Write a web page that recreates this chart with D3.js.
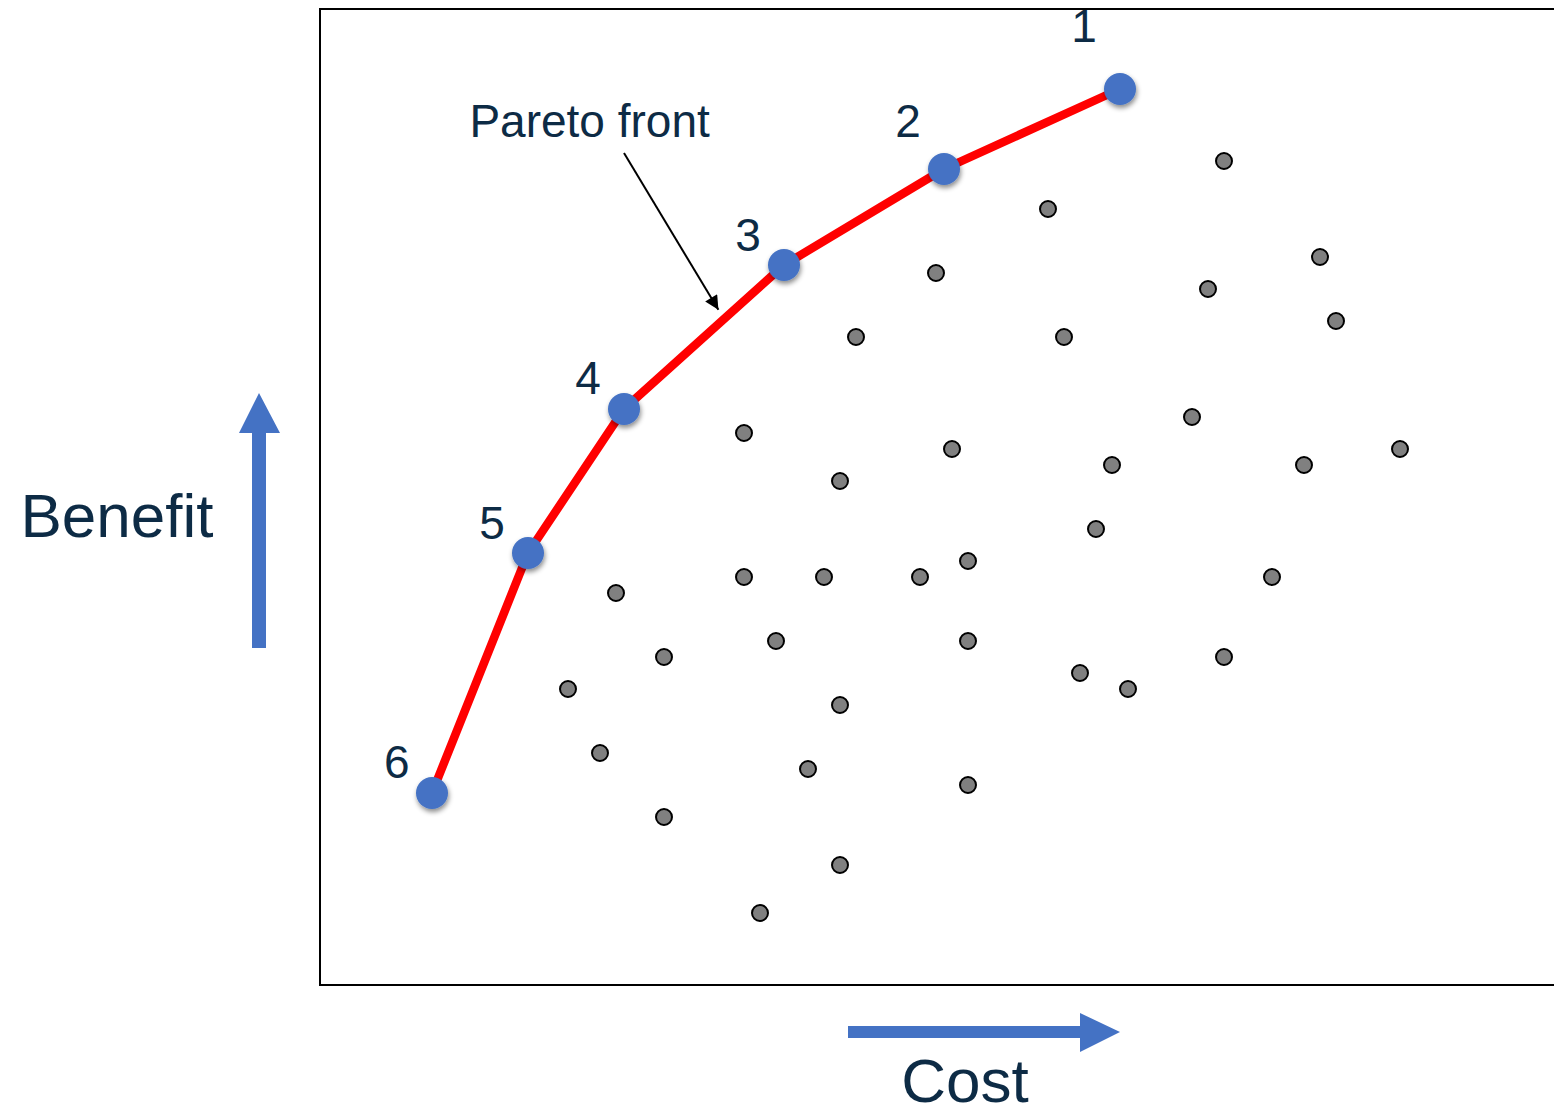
<!DOCTYPE html>
<html><head><meta charset="utf-8">
<script src="https://cdn.jsdelivr.net/npm/d3@7"></script>
<style>html,body{margin:0;padding:0;background:#fff;overflow:hidden}</style>
</head><body>
<script>
// Data (cost, benefit) in chart units
const paretoCost    = [50, 39, 29, 19, 13, 7];
const paretoBenefit = [56, 51, 45, 36, 27, 12];
const paretoLabels  = ["1","2","3","4","5","6"];
const labelCost     = [47.75, 36.75, 26.75, 16.75, 10.75, 4.8];
const labelBenefit  = [58.95, 53.0, 45.9, 36.95, 27.9, 12.95];

const otherCost = [56.5,45.5,38.5,62.5,55.5,63.5,33.5,46.5,54.5,26.5,39.5,49.5,61.5,67.5,32.5,48.5,26.5,31.5,37.5,40.5,59.5,18.5,21.5,28.5,40.5,56.5,15.5,47.5,50.5,32.5,17.5,30.5,40.5,21.5,32.5,27.5];
const otherBenefit = [51.5,48.5,44.5,45.5,43.5,41.5,40.5,40.5,35.5,34.5,33.5,32.5,32.5,33.5,31.5,28.5,25.5,25.5,25.5,26.5,25.5,24.5,20.5,21.5,21.5,20.5,18.5,19.5,18.5,17.5,14.5,13.5,12.5,10.5,7.5,4.5];

const annotText = "Pareto front";
const annotTextPos = [16.85, 53.0];
const annotFrom = [19.0, 52.0];
const annotTo = [24.9, 42.2];

const W = 1554, H = 1109;
const svg = d3.select("body").append("svg").attr("width", W).attr("height", H)
  .style("font-family", "'Liberation Sans', Arial, sans-serif");

const x = d3.scaleLinear().domain([0, 77.125]).range([320, 1554]);
const y = d3.scaleLinear().domain([0, 61]).range([985, 9]);

const defs = svg.append("defs");
const f = defs.append("filter").attr("id","sh").attr("x","-50%").attr("y","-50%").attr("width","200%").attr("height","200%");
f.append("feDropShadow").attr("dx",1).attr("dy",3).attr("stdDeviation",2.5).attr("flood-color","#000").attr("flood-opacity",0.45);
defs.append("marker").attr("id","ah").attr("viewBox","0 0 10 10").attr("refX",10).attr("refY",5)
  .attr("markerWidth",16).attr("markerHeight",14).attr("markerUnits","userSpaceOnUse").attr("orient","auto")
  .append("path").attr("d","M0,0L10,5L0,10z").attr("fill","#000");

// frame (right side runs off the page)
svg.append("path").attr("d", `M1560,${y(61)}H${x(0)}V${y(0)}H1560`)
  .attr("fill","none").attr("stroke","#000").attr("stroke-width",2);

// gray points
svg.append("g").selectAll("circle").data(otherCost).join("circle")
  .attr("cx", d => x(d)).attr("cy", (d,i) => y(otherBenefit[i])).attr("r", 8)
  .attr("fill","#808080").attr("stroke","#000").attr("stroke-width",2);

// pareto line
const pts = paretoCost.map((c,i)=>[c, paretoBenefit[i]]);
svg.append("path").datum(pts)
  .attr("d", d3.line().x(d=>x(d[0])).y(d=>y(d[1])))
  .attr("fill","none").attr("stroke","#ff0000").attr("stroke-width",8.5).attr("stroke-linejoin","round");

svg.append("g").selectAll("circle").data(pts).join("circle")
  .attr("cx", d=>x(d[0])).attr("cy", d=>y(d[1])).attr("r", 16)
  .attr("fill","#4472c4").attr("filter","url(#sh)");

svg.append("g").selectAll("text").data(paretoLabels).join("text")
  .attr("x",(d,i)=>x(labelCost[i])).attr("y",(d,i)=>y(labelBenefit[i]))
  .attr("text-anchor","middle").attr("font-size",46).attr("fill","#0d2b45").text(d=>d);

// annotation
svg.append("text").attr("x", x(annotTextPos[0])).attr("y", y(annotTextPos[1]))
  .attr("text-anchor","middle").attr("font-size",46).attr("fill","#0d2b45").text(annotText);
svg.append("line").attr("x1",x(annotFrom[0])).attr("y1",y(annotFrom[1]))
  .attr("x2",x(annotTo[0])).attr("y2",y(annotTo[1]))
  .attr("stroke","#000").attr("stroke-width",2).attr("marker-end","url(#ah)");

// axis arrows
const blue = "#4472c4";
svg.append("path").attr("d","M252,648V433H239L259,393L280,433H266V648Z").attr("fill",blue);
svg.append("path").attr("d","M848,1026H1080V1013L1120,1032L1080,1052V1038H848Z").attr("fill",blue);
svg.append("text").attr("x",117).attr("y",537).attr("text-anchor","middle")
  .attr("font-size",62).attr("fill","#0d2b45").text("Benefit");
svg.append("text").attr("x",965).attr("y",1102).attr("text-anchor","middle")
  .attr("font-size",62).attr("fill","#0d2b45").text("Cost");
</script>
</body></html>
